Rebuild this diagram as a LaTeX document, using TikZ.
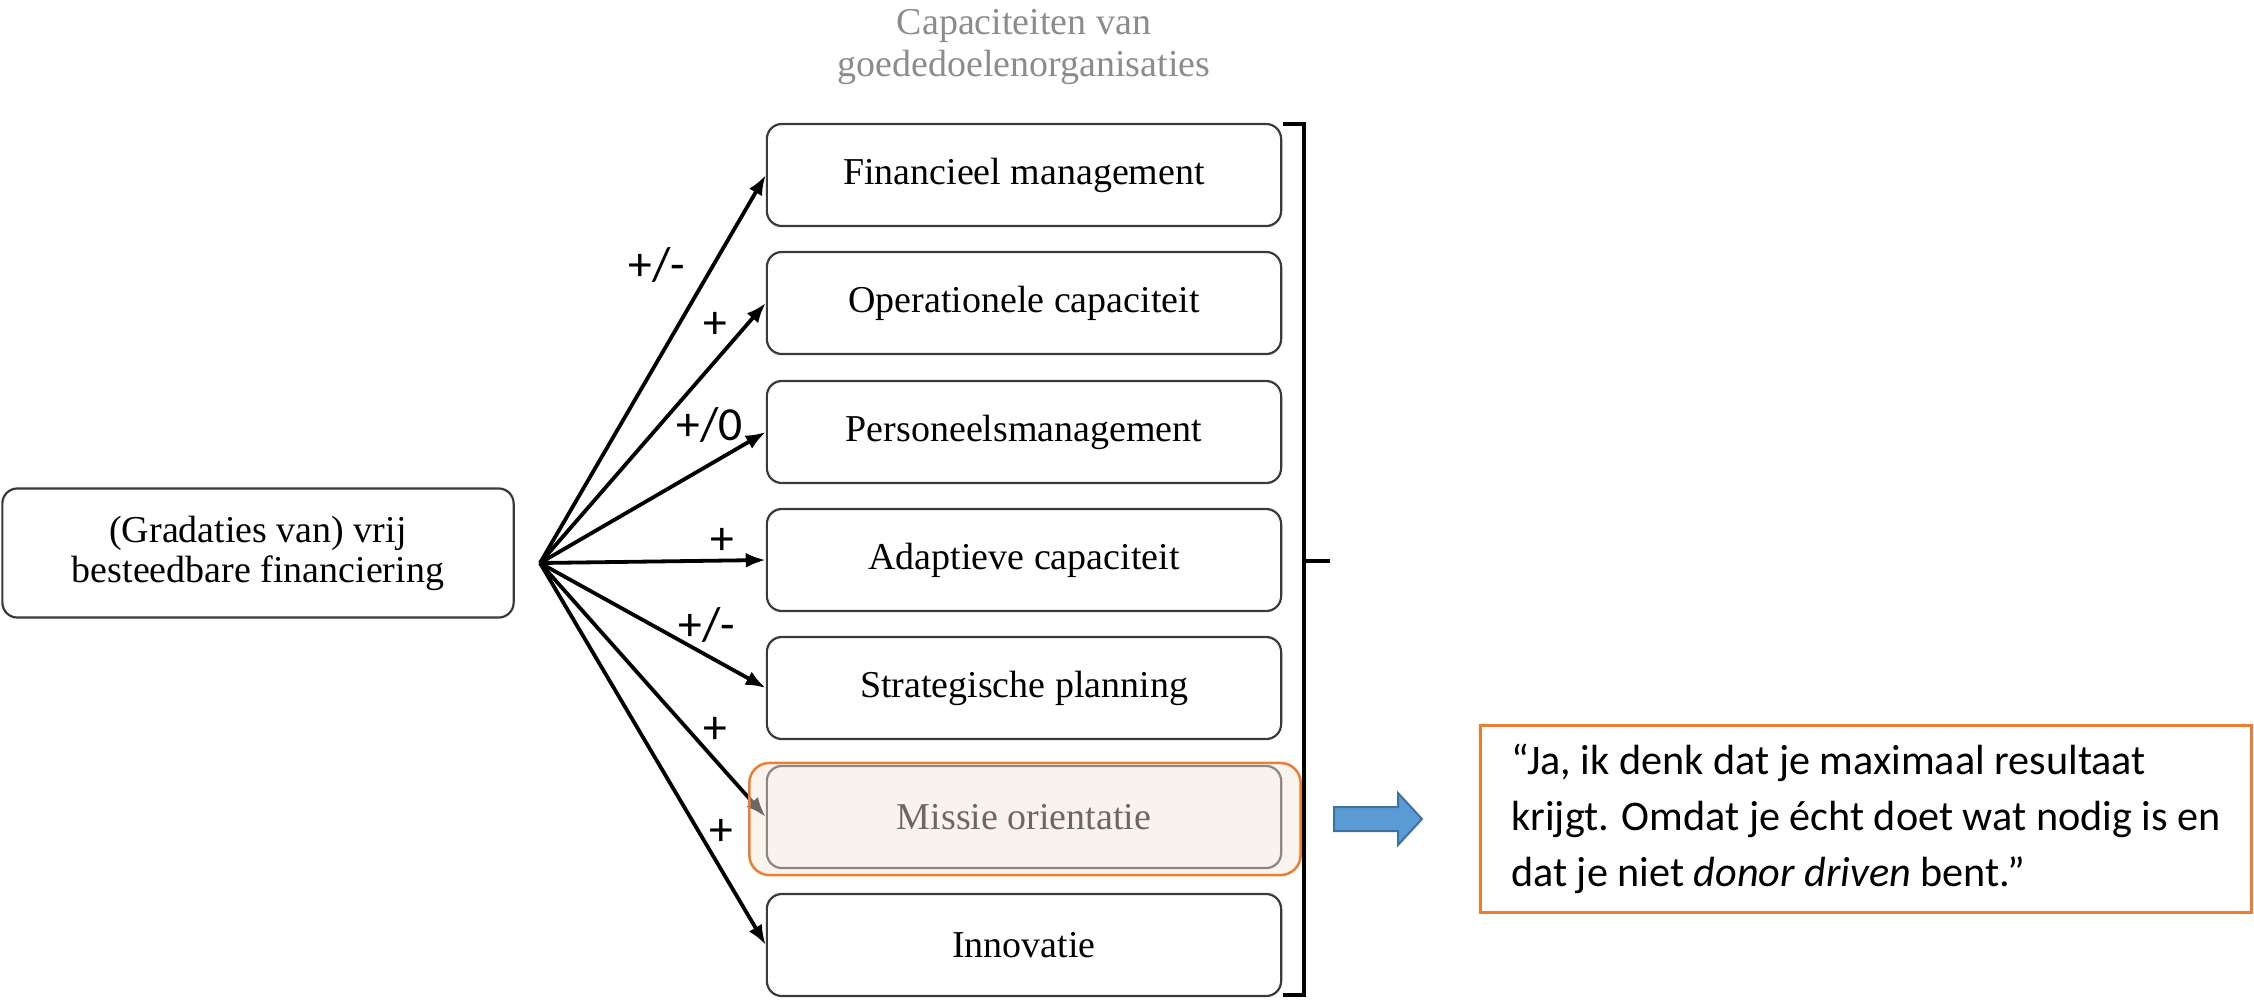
\documentclass[tikz,border=0pt]{standalone}
\usepackage{fontspec}
\setmainfont{Liberation Serif}
\newfontfamily\calibri{Carlito}
\usetikzlibrary{arrows.meta}
\definecolor{kaderrand}{HTML}{3A3A3A}
\definecolor{titelgrijs}{HTML}{8C8C8C}
\definecolor{oranje}{HTML}{ED7D31}
\definecolor{blauw}{HTML}{5B9BD5}
\definecolor{blauwrand}{HTML}{41719C}
\definecolor{waas}{RGB}{243,230,220}

\begin{document}
\begin{tikzpicture}[x=0.01cm,y=-0.01cm]
       \tikzstyle{kader} = [rectangle, rounded corners=0.15cm, draw=kaderrand, line width=0.022cm, fill=white, minimum width=5.14cm, minimum height=1.02cm, font=\fontsize{10.8}{12}\selectfont];
       \tikzstyle{pijl} = [-{Latex[length=0.2cm,width=0.15cm]}, line width=0.038cm];
       \tikzstyle{teken} = [font=\calibri\fontsize{13.5}{14}\selectfont, inner sep=0pt];
       \tikzstyle{haak} = [line width=0.045cm];
       \useasboundingbox (0,0) rectangle (2254,999);

       \node(titel)[align=center, text=titelgrijs, font=\fontsize{10.8}{12.2}\selectfont] at (1024,47) {Capaciteiten van\\goededoelenorganisaties};

       \node(bron)[kader, minimum width=5.11cm, minimum height=1.29cm, align=center, font=\fontsize{10.8}{11.4}\selectfont] at (258,553) {(Gradaties van) vrij\\besteedbare financiering};

       \node(fin)[kader] at (1024,175) {Financieel management};
       \node(ops)[kader] at (1024,303) {Operationele capaciteit};
       \node(pers)[kader] at (1024,432) {Personeelsmanagement};
       \node(adapt)[kader] at (1024,560) {Adaptieve capaciteit};
       \node(strat)[kader] at (1024,688) {Strategische planning};
       \node(missie)[kader] at (1024,817) {Missie orientatie};
       \node(innov)[kader] at (1024,945) {Innovatie};

       \coordinate(vertrek) at (540,563);
       \draw[pijl] (vertrek) -- (fin.west);
       \draw[pijl] (vertrek) -- (ops.west);
       \draw[pijl] (vertrek) -- (pers.west);
       \draw[pijl] (vertrek) -- (adapt.west);
       \draw[pijl] (vertrek) -- (strat.west);
       \draw[pijl] (vertrek) -- (missie.west);
       \draw[pijl] (vertrek) -- (innov.west);

       \node(tfin)[teken] at (657,265) {+/-};
       \node(tops)[teken] at (715,325) {+};
       \node(tpers)[teken] at (710,425) {+/0};
       \node(tadapt)[teken] at (722,541) {+};
       \node(tstrat)[teken] at (707,625) {+/-};
       \node(tmissie)[teken] at (715,730) {+};
       \node(tinnov)[teken] at (721,832) {+};

       % accolade rechts
       \coordinate(hboven) at (1283,124);
       \coordinate(honder) at (1283,995);
       \coordinate(hmidden) at (1330,561);
       \draw[haak] (hboven) -- (1304,124) -- (1304,995) -- (honder);
       \draw[haak] (1304,561) -- (hmidden);

       \node(accent)[rectangle, rounded corners=0.2cm, draw=oranje, line width=0.025cm, fill=waas, fill opacity=0.45, minimum width=5.51cm, minimum height=1.12cm] at (1025,819) {};

       \draw[fill=blauw, draw=blauwrand, line width=0.02cm] (1334,807) -- (1398,807) -- (1398,793) -- (1422,819) -- (1398,845) -- (1398,831) -- (1334,831) -- cycle;

       \node(citaat)[rectangle, draw=oranje, line width=0.03cm, minimum width=7.7cm, minimum height=1.86cm, align=left, font=\calibri\fontsize{12}{15.9}\selectfont] at (1866,819) {“Ja, ik denk dat je maximaal resultaat\\krijgt. Omdat je écht doet wat nodig is en\\dat je niet \textit{donor driven} bent.”};
     \end{tikzpicture}
\end{document}
